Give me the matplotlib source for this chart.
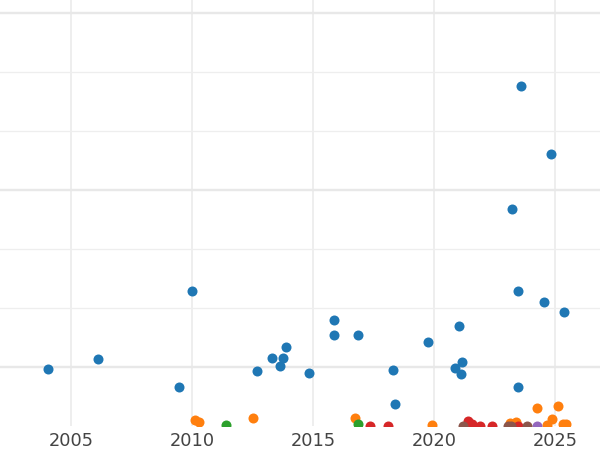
import matplotlib
matplotlib.use("Agg")
import matplotlib.pyplot as plt

# series data (year, value)
blue_x = [2004.06, 2006.10, 2009.47, 2010.01, 2012.69, 2013.31, 2013.64, 2013.76,
          2013.90, 2014.84, 2015.88, 2015.88, 2016.86, 2018.32, 2018.38, 2019.77,
          2021.03, 2020.86, 2021.14, 2021.12, 2023.21, 2023.61, 2023.46, 2023.46,
          2024.82, 2024.56, 2025.38]
blue_y = [0.97, 1.14, 0.66, 2.29, 0.93, 1.16, 1.01, 1.16, 1.34, 0.90, 1.80, 1.54,
          1.54, 0.95, 0.38, 1.42, 1.69, 0.98, 1.08, 0.88, 3.68, 5.77, 2.29, 0.66,
          4.61, 2.11, 1.93]

orange_x = [2010.12, 2010.29, 2012.52, 2016.74, 2019.92, 2023.14, 2023.39, 2024.26,
            2024.67, 2024.88, 2025.12, 2025.33, 2025.45]
orange_y = [0.10, 0.07, 0.14, 0.14, 0.02, 0.05, 0.07, 0.31, 0.02, 0.12, 0.34, 0.03, 0.03]

green_x = [2011.41, 2016.86]
green_y = [0.02, 0.04]

red_x = [2017.36, 2018.10, 2021.40, 2021.57, 2021.90, 2022.40, 2023.47]
red_y = [0.0, 0.0, 0.08, 0.03, 0.0, 0.0, 0.0]

purple_x = [2024.26]
purple_y = [0.0]

brown_x = [2021.20, 2023.06, 2023.18, 2023.84]
brown_y = [0.0, 0.0, 0.0, 0.0]

series = [(blue_x, blue_y, '#1f77b4'), (orange_x, orange_y, '#ff7f0e'),
          (green_x, green_y, '#2ca02c'), (red_x, red_y, '#d62728'),
          (purple_x, purple_y, '#9467bd'), (brown_x, brown_y, '#8c564b')]

fig = plt.figure(figsize=(6, 4.5), dpi=100)
ax = fig.add_axes([0, 24/450, 1, 426/450])

for xs, ys, c in series:
    ax.scatter(xs, ys, s=52, color=c, linewidths=0, zorder=3)

ax.set_xlim(2002.066, 2026.86)
ax.set_ylim(0, 426/59)

ax.set_xticks([2005, 2010, 2015, 2020, 2025])
ax.set_yticks([1, 4, 7])
ax.set_yticks([2, 3, 5, 6], minor=True)
ax.grid(True, axis='x', color='#ebebeb', lw=1.2, zorder=0)
ax.grid(True, axis='y', which='major', color='#e8e8e8', lw=1.7, zorder=0)
ax.grid(True, axis='y', which='minor', color='#eeeeee', lw=0.9, zorder=0)
ax.set_axisbelow(True)

ax.tick_params(axis='x', length=0, pad=4, labelsize=12.8, labelcolor='#444444')
ax.tick_params(axis='y', which='both', length=0, labelleft=False)
for s in ax.spines.values():
    s.set_visible(False)

plt.savefig('out.png', dpi=100)
